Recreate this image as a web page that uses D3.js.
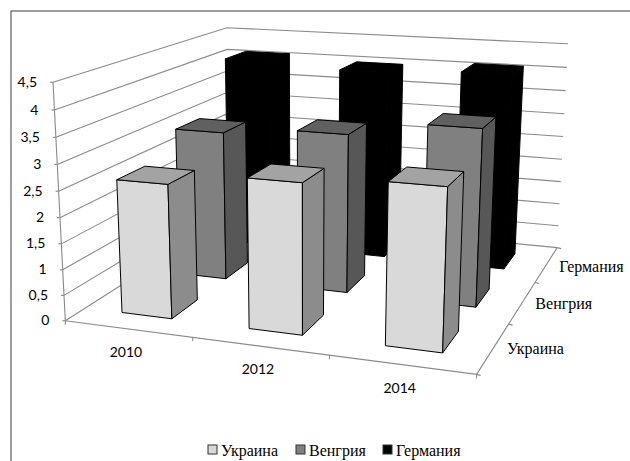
<!DOCTYPE html>
<html>
<head>
<meta charset="utf-8">
<script src="https://cdn.jsdelivr.net/npm/d3@7"></script>
<style>
  html, body { margin: 0; padding: 0; background: #fff; }
  svg { display: block; }
</style>
</head>
<body>
<svg id="chart" width="630" height="461"></svg>
<script>
// Chart data
const years = ["2010", "2012", "2014"];
const countries = ["Украина", "Венгрия", "Германия"];
const ukraine = [2.6, 2.85, 3.0];
const hungary = [3.05, 3.2, 3.5];
const germany = [4.1, 4.0, 4.1];
const valueTicks = [0, 0.5, 1, 1.5, 2, 2.5, 3, 3.5, 4, 4.5];
const valueTickLabels = ["0", "0,5", "1", "1,5", "2", "2,5", "3", "3,5", "4", "4,5"];

// Face colours per country: front, right side, top
const frontFill = ["#d9d9d9", "#808080", "#000000"];
const sideFill = ["#8c8c8c", "#575757", "#000000"];
const topFill = ["#a3a3a3", "#606060", "#000000"];
const legendFill = ["#d9d9d9", "#808080", "#000000"];

// Camera: screen position of the plot box corners as [x, y, z, sx, sy],
// with x along the years, y into the depth and z up the value axis.
const cameraAnchors = [
  [0, 0, 0, 65, 319.5], [1, 0, 0, 477, 375], [1, 1, 0, 557, 247], [0, 1, 0, 230, 217],
  [0, 0, 1, 53, 83], [1, 1, 1, 568, 44], [0, 1, 1, 227, 27]
];

// Gaussian elimination with partial pivoting
function solve(A, b) {
  const n = b.length, M = A.map((r, i) => [...r, b[i]]);
  for (let c = 0; c < n; c++) {
    let p = c;
    for (let r = c + 1; r < n; r++) if (Math.abs(M[r][c]) > Math.abs(M[p][c])) p = r;
    [M[c], M[p]] = [M[p], M[c]];
    for (let r = 0; r < n; r++) {
      if (r === c) continue;
      const f = M[r][c] / M[c][c];
      for (let k = c; k <= n; k++) M[r][k] -= f * M[c][k];
    }
  }
  return M.map((r, i) => r[n] / r[i]);
}

// Least-squares fit of the 3D projective transform through the anchors
function fitProjection(anchors) {
  const rows = [], rhs = [];
  anchors.forEach(([x, y, z, sx, sy]) => {
    const u = sx / 100, v = sy / 100;
    rows.push([x, y, z, 1, 0, 0, 0, 0, -u * x, -u * y, -u * z]); rhs.push(u);
    rows.push([0, 0, 0, 0, x, y, z, 1, -v * x, -v * y, -v * z]); rhs.push(v);
  });
  const n = 11;
  const AtA = d3.range(n).map(i => d3.range(n).map(j => d3.sum(rows, r => r[i] * r[j])));
  const Atb = d3.range(n).map(i => d3.sum(rows, (r, k) => r[i] * rhs[k]));
  const m = solve(AtA, Atb);
  return (x, y, z) => {
    const w = m[8] * x + m[9] * y + m[10] * z + 1;
    return [100 * (m[0] * x + m[1] * y + m[2] * z + m[3]) / w,
            100 * (m[4] * x + m[5] * y + m[6] * z + m[7]) / w];
  };
}
const project = fitProjection(cameraAnchors);

// Scales into the unit box
const xBand = d3.scaleBand().domain(years).range([0, 1]).paddingInner(0.6).paddingOuter(0.3);
const yBand = d3.scaleBand().domain(countries).range([0, 1]).paddingInner(0.55).paddingOuter(0.3);
const zScale = d3.scaleLinear().domain([0, 4.5]).range([0, 1]);
const yEdges = d3.scaleLinear().domain([0, 3]).range([0, 1]);
const xEdges = d3.scaleLinear().domain([0, 3]).range([0, 1]);

const svg = d3.select("#chart");
const gridColor = "#8a8a8a";
const line = d3.line();
const labelFont = "Lato, sans-serif";
const serifFont = "'Liberation Serif', serif";

// Outer chart border, running off the right and bottom of the page
svg.append("rect").attr("x", 11).attr("y", 11).attr("width", 800).attr("height", 800)
  .attr("fill", "#fff").attr("stroke", "#5f5f5f").attr("stroke-width", 1.2);

// Wall gridlines and value axis
const grid = svg.append("g").attr("fill", "none").attr("stroke", gridColor).attr("stroke-width", 1.1);
valueTicks.forEach((v, i) => {
  const z = zScale(v);
  grid.append("path").attr("d", line([project(0, 0, z), project(0, 1, z), project(1, 1, z)]));
  const p = project(0, 0, z);
  grid.append("path").attr("d", line([[p[0] - 3, p[1]], p]));
  svg.append("text").attr("x", p[0] - 16).attr("y", p[1] + 1)
    .attr("text-anchor", "end").attr("dominant-baseline", "middle")
    .attr("font-family", labelFont).attr("font-size", 14).attr("fill", "#000")
    .text(valueTickLabels[i]);
});
grid.append("path").attr("d", line([project(0, 0, 0), project(0, 0, 1)]));

// Floor edges with tick marks between categories
grid.append("path").attr("d", line([project(0, 0, 0), project(1, 0, 0), project(1, 1, 0)]));
d3.range(0, 4).forEach(i => {
  const a = project(xEdges(i), 0, 0);
  grid.append("path").attr("d", line([a, [a[0], a[1] + 4]]));
  const b = project(1, yEdges(i), 0);
  grid.append("path").attr("d", line([b, [b[0] + 4, b[1] + 1]]));
});

// Columns, back row first so nearer rows overlap them
const seriesValues = [ukraine, hungary, germany];
d3.range(countries.length).reverse().forEach(s => {
  const y0 = yBand(countries[s]), y1 = y0 + yBand.bandwidth();
  years.forEach((yr, c) => {
    const x0 = xBand(yr), x1 = x0 + xBand.bandwidth(), z = zScale(seriesValues[s][c]);
    const g = svg.append("g").attr("stroke", "#000").attr("stroke-width", 1).attr("stroke-linejoin", "round");
    const face = (pts, fill) => g.append("path")
      .attr("d", line(pts.map(p => project(...p))) + "Z").attr("fill", fill);
    face([[x0, y0, 0], [x1, y0, 0], [x1, y0, z], [x0, y0, z]], frontFill[s]);
    face([[x1, y0, 0], [x1, y1, 0], [x1, y1, z], [x1, y0, z]], sideFill[s]);
    face([[x0, y0, z], [x1, y0, z], [x1, y1, z], [x0, y1, z]], topFill[s]);
  });
});

// Year labels under the front floor edge
years.forEach(yr => {
  const p = project(xBand(yr) + xBand.bandwidth() / 2, 0, 0);
  svg.append("text").attr("x", p[0] - 2).attr("y", p[1] + 28)
    .attr("text-anchor", "middle").attr("font-family", labelFont)
    .attr("font-size", 14).attr("fill", "#000").text(yr);
});

// Country labels beside the right floor edge
countries.forEach(name => {
  const p = project(1, yBand(name) + yBand.bandwidth() / 2, 0);
  svg.append("text").attr("x", p[0] + 13).attr("y", p[1] + 7)
    .attr("font-family", serifFont).attr("font-size", 16).attr("fill", "#000").text(name);
});

// Legend
const legendX = d3.scaleOrdinal().domain(countries).range([208, 296, 383]);
countries.forEach((name, i) => {
  svg.append("rect").attr("x", legendX(name)).attr("y", 445).attr("width", 9).attr("height", 9)
    .attr("fill", legendFill[i]).attr("stroke", "#333").attr("stroke-width", 1);
  svg.append("text").attr("x", legendX(name) + 13).attr("y", 456)
    .attr("font-family", serifFont).attr("font-size", 16).attr("fill", "#000").text(name);
});
</script>
</body>
</html>
